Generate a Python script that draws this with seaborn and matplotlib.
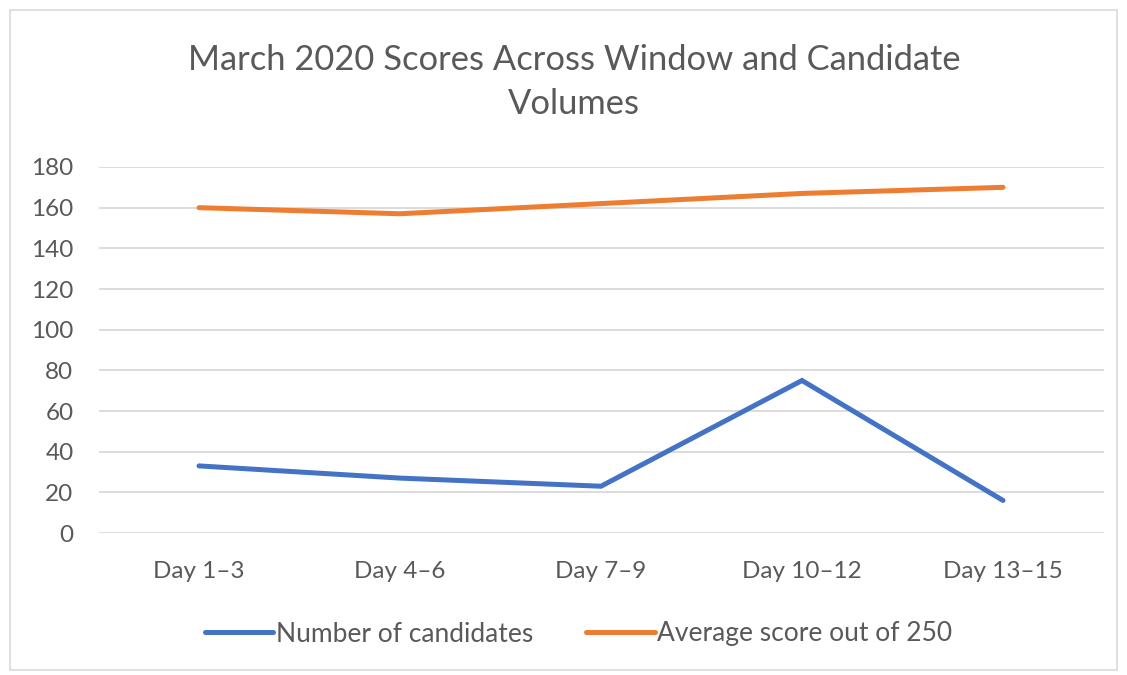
import matplotlib
matplotlib.use("Agg")
import matplotlib.pyplot as plt
import seaborn as sns
import pandas as pd
from matplotlib.patches import Rectangle

categories = ["Day 1\u20133", "Day 4\u20136", "Day 7\u20139", "Day 10\u201312", "Day 13\u201315"]
candidates = [33, 27, 23, 75, 16]
avg_score = [160, 157, 162, 167, 170]
series_names = ["Number of candidates", "Average score out of 250"]
yticks = [0, 20, 40, 60, 80, 100, 120, 140, 160, 180]

df = pd.DataFrame({
    "window": categories * 2,
    "value": candidates + avg_score,
    "series": [series_names[0]] * len(categories) + [series_names[1]] * len(categories),
})

sns.set_theme(style="white")
plt.rcParams["font.family"] = ["Lato", "DejaVu Sans"]
text_color = "#595959"

W, H = 1127, 675
fig = plt.figure(figsize=(W / 100, H / 100), dpi=100)
fig.patch.set_facecolor("white")
fig.patches.append(Rectangle((10 / W, 5 / H), 1107 / W, 660 / H, transform=fig.transFigure,
                             fill=False, edgecolor="#d9d9d9", linewidth=1.2))

ax = fig.add_axes([98.5 / W, (H - 533) / H, 1005 / W, 366 / H])
sns.lineplot(data=df, x="window", y="value", hue="series", sort=False,
             palette=["#4472C4", "#ED7D31"], linewidth=3.6, ax=ax, legend=True)
for ln in ax.get_lines():
    ln.set_solid_capstyle("round")
    ln.set_solid_joinstyle("miter")

ax.set_xlim(-0.5, 4.5)
ax.set_ylim(0, 180)
ax.set_yticks(yticks)
ax.yaxis.grid(True, color="#d9d9d9", linewidth=1.3)
ax.set_axisbelow(True)
for s in ax.spines.values():
    s.set_visible(False)
ax.tick_params(axis="both", length=0, labelsize=17.5, labelcolor=text_color)
ax.tick_params(axis="y", pad=18)
ax.tick_params(axis="x", pad=20)
ax.set_xlabel("")
ax.set_ylabel("")

handles, labels = ax.get_legend_handles_labels()
ax.get_legend().remove()
leg = fig.legend(handles, labels, loc="center", bbox_to_anchor=(578.5 / W, (H - 634) / H), ncol=2,
                 frameon=False, fontsize=19, handlelength=2.6, handletextpad=0.1,
                 columnspacing=2.0)
for t in leg.get_texts():
    t.set_color(text_color)
for lh in leg.get_lines():
    lh.set_linewidth(3.6)
    lh.set_solid_capstyle("round")

fig.text(574 / W, (H - 82) / H, "March 2020 Scores Across Window and Candidate\nVolumes",
         ha="center", va="center", fontsize=24.8, color=text_color, linespacing=1.5)

fig.savefig("out.png", dpi=100)
